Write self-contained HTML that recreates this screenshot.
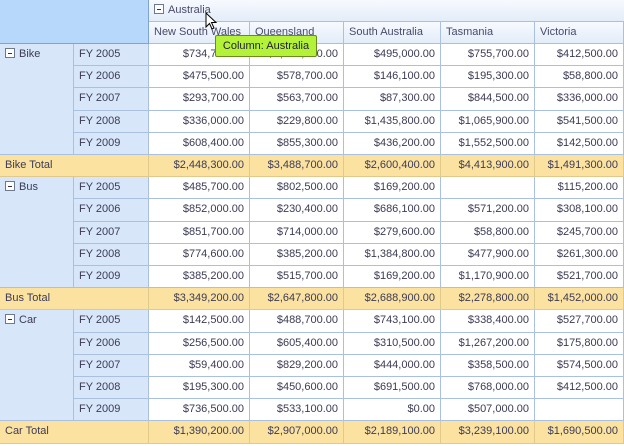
<!DOCTYPE html>
<html><head><meta charset="utf-8"><style>
body{margin:0;width:624px;height:446px;overflow:hidden;background:#fff;font-family:"Liberation Sans",sans-serif;font-size:11px;color:#3b3b55}
#g{position:relative;width:624px;height:446px}
.c{position:absolute;box-sizing:border-box;border-right:1px solid #a9c0e0;border-bottom:1px solid #a9c0e0;white-space:nowrap;overflow:hidden;line-height:21px;padding:0 5px}
.num{text-align:right;background:#fff}
.rh{background:#d8e6fa}
.tot{background:#fbe2a1;border-color:#e0c98a}
.ch{background:linear-gradient(#f7faff,#e3ecf8);color:#4a4a6a}
.box{display:inline-block;width:8px;height:8px;border:1px solid #6b7a90;margin-right:4px;vertical-align:-1px;position:relative;background:#fff}
.box:after{content:"";position:absolute;left:2px;top:3.5px;width:4px;height:1px;background:#333}
#tip{position:absolute;left:215px;top:35px;width:102px;height:22px;background:#b4f23a;border:1px solid #6a8a20;border-radius:2px;font-size:11px;line-height:20px;text-align:center;color:#223;box-sizing:border-box}
</style></head><body>
<div id="g">
<div class="c" style="left:0;top:0;width:149px;height:44px;background:#b8d8fb;border-color:#7ea4d6"></div>
<div class="c ch" style="left:149px;top:0;width:475px;height:22px;border-right:none"><span class="box"></span>Australia</div>
<svg style="position:absolute;left:205px;top:12px" width="14" height="20"><path d="M1 1 L1 15 L4.5 11.5 L7 17 L9 16 L6.5 10.5 L11 10.5 Z" fill="#fff" stroke="#000" stroke-width="1"/></svg>
</div>
<script>
const cols=["New South Wales","Queensland","South Australia","Tasmania","Victoria"];
const groups=["Bike","Bus","Car"];
const years=["FY 2005","FY 2006","FY 2007","FY 2008","FY 2009"];
const bike=[["$734,700.00","$1,016,700.00","$495,000.00","$755,700.00","$412,500.00"],["$475,500.00","$578,700.00","$146,100.00","$195,300.00","$58,800.00"],["$293,700.00","$563,700.00","$87,300.00","$844,500.00","$336,000.00"],["$336,000.00","$229,800.00","$1,435,800.00","$1,065,900.00","$541,500.00"],["$608,400.00","$855,300.00","$436,200.00","$1,552,500.00","$142,500.00"]];
const bikeTotal=["$2,448,300.00","$3,488,700.00","$2,600,400.00","$4,413,900.00","$1,491,300.00"];
const bus=[["$485,700.00","$802,500.00","$169,200.00","","$115,200.00"],["$852,000.00","$230,400.00","$686,100.00","$571,200.00","$308,100.00"],["$851,700.00","$714,000.00","$279,600.00","$58,800.00","$245,700.00"],["$774,600.00","$385,200.00","$1,384,800.00","$477,900.00","$261,300.00"],["$385,200.00","$515,700.00","$169,200.00","$1,170,900.00","$521,700.00"]];
const busTotal=["$3,349,200.00","$2,647,800.00","$2,688,900.00","$2,278,800.00","$1,452,000.00"];
const car=[["$142,500.00","$488,700.00","$743,100.00","$338,400.00","$527,700.00"],["$256,500.00","$605,400.00","$310,500.00","$1,267,200.00","$175,800.00"],["$59,400.00","$829,200.00","$444,000.00","$358,500.00","$574,500.00"],["$195,300.00","$450,600.00","$691,500.00","$768,000.00","$412,500.00"],["$736,500.00","$533,100.00","$0.00","$507,000.00",""]];
const carTotal=["$1,390,200.00","$2,907,000.00","$2,189,100.00","$3,239,100.00","$1,690,500.00"];
const data=[bike,bus,car], totals=[bikeTotal,busTotal,carTotal];
const xs=[149,250,344,441,535,624], H=22.2, T=44;
const g=document.getElementById('g');
function cell(cls,x,y,w,h,txt,name,inter){const d=document.createElement('div');d.className='c '+cls;d.style.left=x+'px';d.style.top=y+'px';d.style.width=w+'px';d.style.height=h+'px';d.innerHTML=txt;


g.appendChild(d);return d;}
cols.forEach((c,i)=>cell('ch',xs[i],22,xs[i+1]-xs[i],22,c,'column-header-'+c.toLowerCase().replace(/ /g,'-'),true));
let r=0;
groups.forEach((gr,gi)=>{
  const top=T+r*H;
  cell('rh',0,top,74,H*5,'<span class="box"></span>'+gr,'row-group-'+gr.toLowerCase(),true);
  years.forEach((y,yi)=>{
    const yt=T+r*H;
    cell('rh',74,yt,75,H,y,'row-year-'+gr.toLowerCase()+'-'+yi,false);
    data[gi][yi].forEach((v,ci)=>cell('num',xs[ci],yt,xs[ci+1]-xs[ci],H,v,'value-cell',false));
    r++;
  });
  const tt=T+r*H;
  cell('tot',0,tt,149,H,gr+' Total','total-label-'+gr.toLowerCase(),false);
  totals[gi].forEach((v,ci)=>{const d=cell('tot num',xs[ci],tt,xs[ci+1]-xs[ci],H,v,'total-cell',false);d.style.background='#fbe2a1';});
  r++;
});
const tip=document.createElement('div');tip.id='tip';tip.textContent='Column: Australia';


g.appendChild(tip);
g.appendChild(g.querySelector('svg'));
</script>
</body></html>
